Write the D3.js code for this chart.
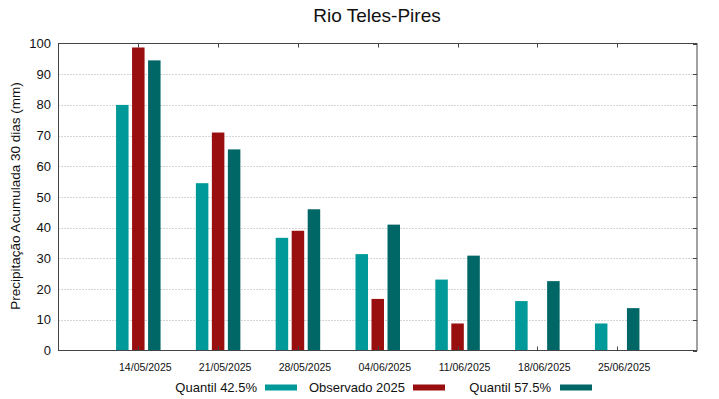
<!DOCTYPE html>
<html><head><meta charset="utf-8">
<script src="https://cdn.jsdelivr.net/npm/d3@7"></script>
<style>body{margin:0;background:#fff}svg{display:block;font-family:"Liberation Sans",Arial,sans-serif}</style>
</head><body>
<svg id="c" width="719" height="399"></svg>
<script>
const categories = ["14/05/2025","21/05/2025","28/05/2025","04/06/2025","11/06/2025","18/06/2025","25/06/2025"];
const quantil425 = [80, 54.5, 36.7, 31.4, 23.1, 16.1, 8.8];
const observado2025 = [98.7, 71, 39, 16.8, 8.8, null, null];
const quantil575 = [94.5, 65.5, 46, 41, 30.9, 22.6, 13.8];
const yTicks = [0,10,20,30,40,50,60,70,80,90,100];
const seriesNames = ["Quantil 42.5%","Observado 2025","Quantil 57.5%"];
const colors = ["#009999","#990f0f","#006666"];

const svg = d3.select("#c");
const L=58.5, R=697, T=43.5, B=350.5;
const x = d3.scaleLinear().domain([-1, categories.length]).range([L, R]);
const y = d3.scaleLinear().domain([0,100]).range([B, T]);

// grid
svg.append("g").selectAll("line").data(yTicks.filter(d=>d>0&&d<100)).join("line")
  .attr("x1",L).attr("x2",R).attr("y1",d=>Math.round(y(d))+0.5).attr("y2",d=>Math.round(y(d))+0.5)
  .attr("stroke","#aaa").attr("stroke-width",1).attr("stroke-dasharray","1,2");

// bars
const series=[quantil425, observado2025, quantil575];
const offs=[-16,0,16], bw=12.5;
series.forEach((s,si)=>{
  svg.append("g").selectAll("rect").data(s.map((v,i)=>({v,i})).filter(d=>d.v!=null)).join("rect")
    .attr("x",d=>x(d.i)+offs[si]-bw/2).attr("width",bw)
    .attr("y",d=>y(d.v)).attr("height",d=>B-y(d.v))
    .attr("fill",colors[si]);
});

// frame
svg.append("rect").attr("x",L).attr("y",T).attr("width",R-L).attr("height",B-T)
  .attr("fill","none").attr("stroke","#444").attr("stroke-width",1);

// x ticks inside (top and bottom)
const xt = svg.append("g");
categories.forEach((c,i)=>{
  const xx=Math.round(x(i))+0.5;
  xt.append("line").attr("x1",xx).attr("x2",xx).attr("y1",T).attr("y2",T+4).attr("stroke","#444");
  xt.append("line").attr("x1",xx).attr("x2",xx).attr("y1",B).attr("y2",B-4).attr("stroke","#444");
});
// right ticks
svg.append("g").selectAll("line").data(yTicks).join("line")
  .attr("x1",R).attr("x2",R-4).attr("y1",d=>Math.round(y(d))+0.5).attr("y2",d=>Math.round(y(d))+0.5).attr("stroke","#444");

// y labels
svg.append("g").selectAll("text").data(yTicks).join("text")
  .attr("x",51).attr("y",d=>y(d)).attr("dy","0.35em").attr("text-anchor","end")
  .attr("font-size",13).attr("fill","#111").text(d=>d);

// x labels
svg.append("g").selectAll("text").data(categories).join("text")
  .attr("x",(d,i)=>x(i)+7).attr("y",371).attr("text-anchor","middle")
  .attr("font-size",10.5).attr("fill","#111").text(d=>d);

// title
svg.append("text").attr("x",377).attr("y",22).attr("text-anchor","middle")
  .attr("font-size",19).attr("fill","#111").text("Rio Teles-Pires");

// y axis label
svg.append("text").attr("transform","translate(20,196) rotate(-90)").attr("text-anchor","middle")
  .attr("font-size",13.5).attr("fill","#111").text("Precipitação Acumulada 30 dias (mm)");

// legend
const leg=[{tx:257,sx:265},{tx:405,sx:413},{tx:551,sx:560}];
leg.forEach((l,i)=>{
  svg.append("text").attr("x",l.tx).attr("y",392).attr("text-anchor","end").attr("font-size",13).attr("fill","#111").text(seriesNames[i]);
  svg.append("rect").attr("x",l.sx).attr("y",384.5).attr("width",32).attr("height",6).attr("fill",colors[i]);
});
</script>
</body></html>
